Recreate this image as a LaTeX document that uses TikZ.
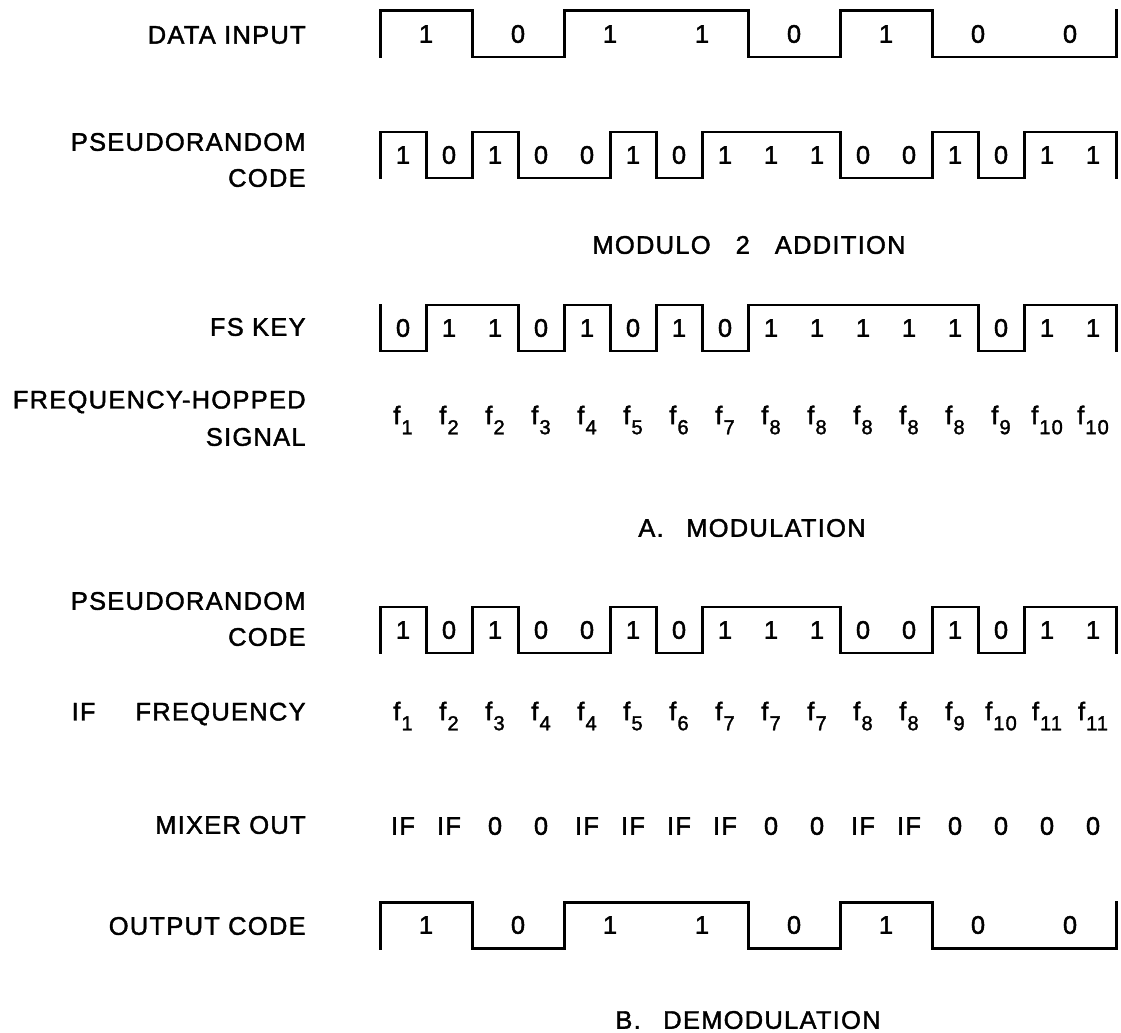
\documentclass[tikz,border=0pt]{standalone}
\usepackage{fontspec}
\setmainfont{Liberation Sans}[FakeBold=1.6,LetterSpace=5]
\usetikzlibrary{positioning}

\newcommand{\fsub}[1]{f\kern0.6pt\raisebox{-0.75ex}{\fontsize{11.5}{12}\selectfont #1}}
\def\waveh{46}

% square wave: #1 name, #2 left x, #3 top y, #4 slot width, #5 bits
\newcommand{\bitwave}[5]{%
  \foreach \b [count=\i from 0, remember=\b as \pb (initially 2)] in {#5} {
    \pgfmathsetmacro{\xa}{#2+\i*#4}
    \pgfmathsetmacro{\ya}{\b==1 ? #3 : #3+\waveh}
    \draw[wave] (\xa,\ya) -- ++(#4,0);
    \ifnum\b=\pb\else \draw[wave] (\xa,#3) -- (\xa,#3+\waveh);\fi
    \node[bitlbl] (#1-\i) at (\xa+#4/2,#3+\waveh/2) {\b};
    \pgfmathparse{#2+(\i+1)*#4}\xdef\wend{\pgfmathresult}
  }
  \draw[wave] (\wend,#3) -- (\wend,#3+\waveh);
}

\begin{document}
\begin{tikzpicture}[
  x=0.02cm, y=-0.02cm,
  wave/.style={line width=1.7pt, line cap=rect},
  lbl/.style={font=\fontsize{14.5}{16}\selectfont, inner sep=0pt},
  rowlbl/.style={lbl, anchor=east},
  bitlbl/.style={lbl},
]
\useasboundingbox (0,0) rectangle (1121,1033);

% modulation
\node[rowlbl] (datain) at (306,35) {DATA INPUT};
\bitwave{din}{380}{11}{92}{1,0,1,1,0,1,0,0}

\node[rowlbl] (pn1a) at (306,142) {PSEUDORANDOM};
\node[rowlbl] (pn1b) at (306,178) {CODE};
\bitwave{pna}{380}{132}{46}{1,0,1,0,0,1,0,1,1,1,0,0,1,0,1,1}

\node[lbl] (modsum) at (749,245) {MODULO\ \ \ 2\ \ \ ADDITION};

\node[rowlbl] (fskey) at (306,327) {FS KEY};
\bitwave{fsk}{380}{305}{46}{0,1,1,0,1,0,1,0,1,1,1,1,1,0,1,1}

\node[rowlbl] (fhopa) at (306,402) {FREQUENCY-HOPPED};
\node[rowlbl] (fhopb) at (306,437) {SIGNAL};
\foreach \n [count=\i from 0] in {1,2,2,3,4,5,6,7,8,8,8,8,8,9,10,10}
  \node[bitlbl] (fh-\i) at (403+\i*46,420) {\fsub{\n}};

\node[lbl] (modcap) at (752,528) {A.\hspace{0.45cm}MODULATION};

% demodulation
\node[rowlbl] (pn2a) at (306,601) {PSEUDORANDOM};
\node[rowlbl] (pn2b) at (306,637) {CODE};
\bitwave{pnb}{380}{607}{46}{1,0,1,0,0,1,0,1,1,1,0,0,1,0,1,1}

\node[rowlbl] (iffreq) at (306,714) {IF\hspace{0.8cm}FREQUENCY};
\foreach \n [count=\i from 0] in {1,2,3,4,4,5,6,7,7,7,8,8,9,10,11,11}
  \node[bitlbl] (if-\i) at (403+\i*46,716) {\fsub{\n}};

\node[rowlbl] (mixout) at (306,825) {MIXER OUT};
\foreach \s [count=\i from 0] in {IF,IF,0,0,IF,IF,IF,IF,0,0,IF,IF,0,0,0,0}
  \node[bitlbl] (mx-\i) at (403+\i*46,826) {\s};

\node[rowlbl] (outcode) at (306,926) {OUTPUT CODE};
\bitwave{dout}{380}{902}{92}{1,0,1,1,0,1,0,0}

\node[lbl] (demodcap) at (748,1020) {B.\hspace{0.45cm}DEMODULATION};
\end{tikzpicture}
\end{document}
